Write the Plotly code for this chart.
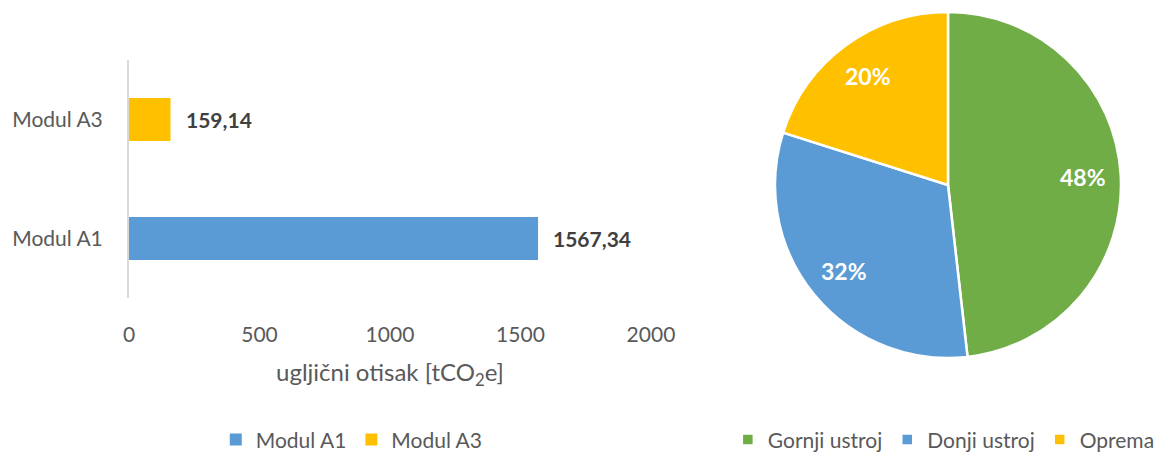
import math
import plotly.graph_objects as go

# Bar chart data: carbon footprint per module
bar_categories = ["Modul A1", "Modul A3"]
bar_values = [1567.34, 159.14]
bar_colors = ["#5B9BD5", "#FFC000"]
x_ticks = [0, 500, 1000, 1500, 2000]

# Pie chart data: share per construction part
pie_labels = ["Gornji ustroj", "Donji ustroj", "Oprema"]
pie_values = [48.2, 31.7, 20.1]
pie_colors = ["#70AD47", "#5B9BD5", "#FFC000"]

FONT = "Lato"
GREY = "#595959"
W, H = 1161, 452

# Pie placement in pixels (centre and radius)
PIE_CX, PIE_CY, PIE_R = 948, 185, 173
LABEL_FRAC = 0.78

fig = go.Figure()

for cat, val, col in zip(bar_categories, bar_values, bar_colors):
    fig.add_trace(go.Bar(
        y=[cat], x=[val], orientation="h", name=cat,
        marker=dict(color=col, line=dict(width=0)),
        width=0.36, legend="legend",
        hoverinfo="skip",
    ))
    fig.add_annotation(
        x=val, y=cat, xref="x", yref="y",
        text=f"{val:.2f}".replace(".", ","),
        showarrow=False, xanchor="left", xshift=13,
        font=dict(family=FONT, size=21, color="#404040", weight="bold"),
    )

fig.add_trace(go.Pie(
    labels=pie_labels, values=pie_values,
    marker=dict(colors=pie_colors, line=dict(color="white", width=2.5)),
    sort=False, direction="clockwise", rotation=0,
    textinfo="none",
    domain=dict(x=[(PIE_CX - PIE_R) / W, (PIE_CX + PIE_R) / W],
                y=[(H - PIE_CY - PIE_R) / H, (H - PIE_CY + PIE_R) / H]),
    legend="legend2", hoverinfo="skip",
))

# Percentage labels placed at each slice's mid-angle
total = sum(pie_values)
start = 0.0
for v in pie_values:
    share = v / total
    mid = (start + share / 2) * 2 * math.pi
    start += share
    px = PIE_CX + LABEL_FRAC * PIE_R * math.sin(mid)
    py = PIE_CY - LABEL_FRAC * PIE_R * math.cos(mid)
    fig.add_annotation(
        x=px / W, y=1 - py / H, xref="paper", yref="paper",
        text=f"{share * 100:.0f}%", showarrow=False,
        xanchor="center", yanchor="middle",
        font=dict(family=FONT, size=23, color="white", weight="bold"),
    )

fig.update_layout(
    width=W, height=H,
    margin=dict(l=0, r=0, t=0, b=0, autoexpand=False),
    paper_bgcolor="white", plot_bgcolor="white",
    barmode="overlay",
    font=dict(family=FONT, size=21, color=GREY),
    xaxis=dict(
        domain=[0.1111, 0.5607], range=[0, 2000],
        tickvals=x_ticks, ticktext=[str(t) for t in x_ticks],
        showgrid=False, zeroline=False, showline=False,
        ticks="outside", ticklen=18, tickcolor="rgba(0,0,0,0)",
        tickfont=dict(size=21, color=GREY),
        title=dict(text="ugljični otisak [tCO<sub>2</sub>e]",
                   font=dict(size=24, color=GREY), standoff=18),
    ),
    yaxis=dict(
        domain=[0.3407, 0.8673],
        categoryorder="array", categoryarray=bar_categories,
        showgrid=False, zeroline=False,
        showline=True, linecolor="#D9D9D9", linewidth=2,
        ticks="outside", ticklen=20, tickcolor="rgba(0,0,0,0)",
        tickfont=dict(size=21, color=GREY),
    ),
    legend=dict(
        orientation="h", x=0.303, xanchor="center", y=0.027, yanchor="middle",
        font=dict(size=21, color=GREY), bgcolor="rgba(0,0,0,0)",
    ),
    legend2=dict(
        orientation="h", x=0.999, xanchor="right", y=0.027, yanchor="middle",
        font=dict(size=21, color=GREY), bgcolor="rgba(0,0,0,0)",
    ),
)

fig.write_html("out.html")
